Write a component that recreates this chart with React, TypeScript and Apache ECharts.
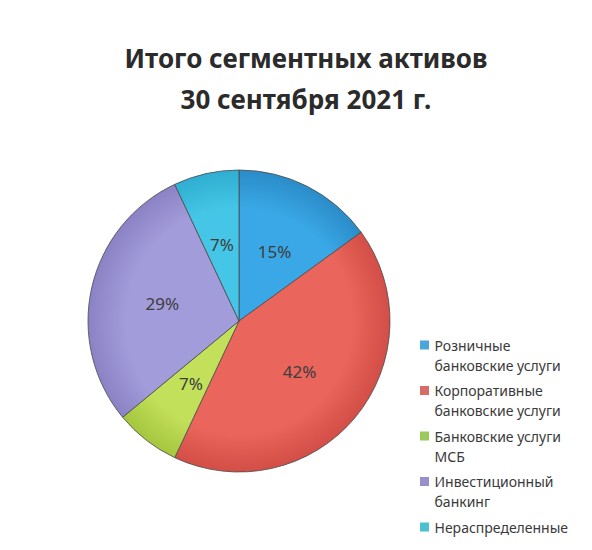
import React, { useEffect, useRef } from "react";
import * as echarts from "echarts";

const titleLines = ["Итого сегментных активов", "30 сентября 2021 г."];
const categories = [
  "Розничные\nбанковские услуги",
  "Корпоративные\nбанковские услуги",
  "Банковские услуги\nМСБ",
  "Инвестиционный\nбанкинг",
  "Нераспределенные",
];
const values = [15, 42, 7, 29, 7];
const colors = ["#3aa8e6", "#ea655b", "#c2e05a", "#a39cda", "#45c6e6"];
const edgeColors = ["#2a8cc8", "#d24e46", "#a6c640", "#8a82c4", "#2eaed0"];
const legendColors = ["#4aa6d8", "#d96a66", "#9cc95a", "#9a8fc8", "#4ac0d0"];

export default function App() {
  const ref = useRef<HTMLDivElement>(null);
  useEffect(() => {
    if (!ref.current) return;
    const chart = echarts.init(ref.current, null, { renderer: "svg" });
    const cx = 239;
    const cy = 321;
    const r = 151;
    const data = categories.map((name, i) => ({
      name,
      value: values[i],
      itemStyle: {
        color: {
          type: "radial",
          x: cx,
          y: cy,
          r: r,
          global: true,
          colorStops: [
            { offset: 0, color: colors[i] },
            { offset: 0.75, color: colors[i] },
            { offset: 1, color: edgeColors[i] },
          ],
        },
      },
    }));
    const legendData = categories.map((name, i) => ({
      name,
      icon: "rect",
      itemStyle: { color: legendColors[i], borderColor: "#ffffff", borderWidth: 1 },
    }));
    chart.setOption({
      animation: false,
      backgroundColor: "#ffffff",
      title: {
        text: titleLines.join("\n"),
        left: 301,
        top: 32,
        textAlign: "center",
        textStyle: {
          fontFamily: "Noto Sans",
          fontWeight: "bold",
          fontSize: 26,
          lineHeight: 41.5,
          color: "#2b2b2b",
        },
      },
      legend: {
        orient: "vertical",
        left: 419,
        top: 315,
        height: 320,
        padding: 0,
        itemWidth: 10,
        itemHeight: 10,
        itemGap: -14.5,
        selectedMode: false,
        data: legendData,
        formatter: (name: string) =>
          name.includes("\n") ? "\n" + name : "\n" + name + "\n",
        textStyle: {
          fontFamily: "Noto Sans",
          fontSize: 14,
          lineHeight: 20,
          color: "#3a3a3a",
        },
      },
      series: [
        {
          type: "pie",
          center: [cx, cy],
          radius: r,
          startAngle: 90,
          clockwise: true,
          data,
          label: {
            position: "inside",
            formatter: "{c}%",
            fontFamily: "Noto Sans",
            fontSize: 17,
            color: "#3d3d3d",
          },
          labelLine: { show: false },
          itemStyle: { borderColor: "#4a4a4a", borderWidth: 0.8 },
          emphasis: { disabled: true },
        },
      ],
    });
    return () => chart.dispose();
  }, []);
  return (
    <div
      ref={ref}
      style={{ position: "fixed", left: 0, top: 0, width: 592, height: 550 }}
    />
  );
}
